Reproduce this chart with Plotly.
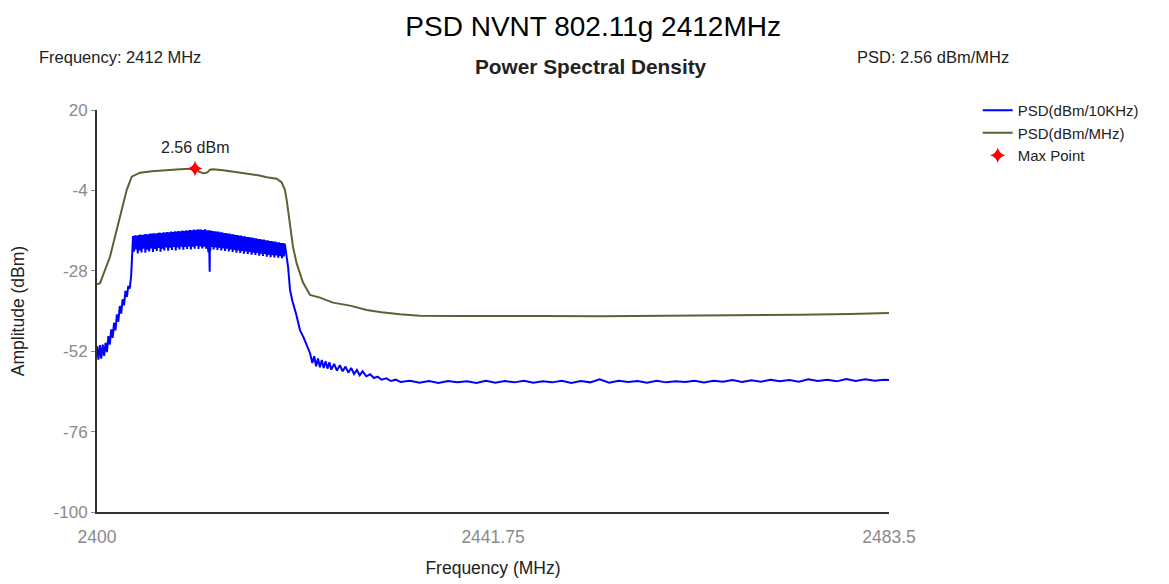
import plotly.graph_objects as go

# ---------------- data ----------------
green_f = [2400.0, 2400.32, 2401.37, 2402.42, 2403.13, 2403.66, 2404.53, 2405.8, 2407.35, 2408.75,
           2410.33, 2410.75, 2411.21, 2411.6, 2411.91, 2412.26, 2413.3, 2414.34, 2415.78, 2417.0,
           2417.89, 2418.95, 2419.47, 2419.82, 2420.03, 2420.35, 2420.66, 2421.05, 2421.72, 2422.46,
           2422.98, 2423.51, 2424.88, 2426.67, 2428.43, 2430.0, 2431.94, 2434.05, 2438.0, 2442.49,
           2447.0, 2453.03, 2458.0, 2463.57, 2468.0, 2474.12, 2479.39, 2483.5]
green_v = [-32.0, -31.7, -23.8, -11.8, -3.9, 0.1, 1.3, 1.7, 2.1, 2.3,
           2.56, 1.6, 1.1, 1.3, 2.2, 2.3, 2.0, 1.6, 1.1, 0.5,
           -0.1, -0.5, -1.6, -3.9, -7.5, -13.8, -20.8, -25.8, -31.5, -35.2,
           -35.6, -36.0, -37.5, -38.4, -39.7, -40.4, -41.0, -41.4, -41.5, -41.6,
           -41.5, -41.6, -41.5, -41.5, -41.3, -41.1, -40.9, -40.6]

blue_left_f = [2400.0, 2400.15, 2400.3, 2400.45, 2400.6, 2400.75, 2400.9, 2401.05, 2401.2, 2401.35,
               2401.5, 2401.65, 2401.8, 2401.95, 2402.1, 2402.25, 2402.4, 2402.55, 2402.7, 2402.85,
               2403.0, 2403.15, 2403.3, 2403.45, 2403.6, 2403.7]
blue_left_v = [-50.5, -54.5, -50.2, -54.2, -50.0, -53.4, -49.5, -52.3, -47.5, -50.0,
               -45.5, -48.0, -43.5, -45.8, -41.0, -43.2, -38.5, -40.8, -36.5, -38.3,
               -34.0, -35.8, -32.5, -33.3, -29.5, -22.0]

# in-band ripple: peaks (sampled every 0.2 MHz from 2403.8) and troughs (0.1 MHz later)
band_start = 2403.8
band_top_v = [-17.6, -17.4, -17.5, -17.3, -17.2, -17.3, -17.1, -17.0, -17.1, -16.9,
              -16.9, -16.8, -16.9, -16.7, -16.6, -16.7, -16.5, -16.6, -16.4, -16.5,
              -16.3, -16.4, -16.2, -16.3, -16.1, -16.2, -16.0, -16.1, -15.9, -16.0,
              -15.8, -15.9, -15.7, -15.8, -15.6, -15.7, -15.7, -15.8, -15.6, -15.9,
              -15.9, -16.0, -16.1, -16.2, -16.3, -16.3, -16.5, -16.5, -16.7, -16.7,
              -16.9, -16.9, -17.1, -17.1, -17.3, -17.3, -17.5, -17.5, -17.7, -17.7,
              -17.9, -17.9, -18.1, -18.1, -18.3, -18.3, -18.5, -18.5, -18.7, -18.7,
              -18.9, -18.9, -19.1, -19.1, -19.3, -19.3, -19.5, -19.5, -19.7, -19.7,
              -19.9]
band_bot_v = [-22.3, -21.6, -22.8, -21.9, -22.5, -21.4, -22.6, -21.7, -22.2, -21.3,
              -22.4, -21.5, -22.1, -21.2, -22.3, -21.4, -21.9, -21.0, -22.0, -21.1,
              -21.8, -20.9, -21.9, -21.0, -21.6, -20.8, -21.7, -20.9, -21.5, -20.7,
              -21.6, -20.8, -21.4, -20.6, -21.5, -20.7, -21.3, -20.8, -21.4, -21.0,
              -21.3, -20.9, -21.6, -21.0, -21.8, -21.1, -21.9, -21.3, -22.1, -21.4,
              -22.2, -21.6, -22.4, -21.8, -22.6, -21.9, -22.7, -22.1, -22.9, -22.2,
              -23.0, -22.4, -23.2, -22.6, -23.3, -22.7, -23.5, -22.9, -23.6, -23.0,
              -23.8, -23.2, -23.9, -23.3, -24.0, -23.4, -24.1, -23.6, -24.2, -23.7,
              -24.3]
dip_f = [2411.75, 2411.82, 2411.88, 2411.95]
dip_v = [-22.5, -28.3, -28.3, -22.0]

blue_fall_f = [2420.15, 2420.35, 2420.6, 2421.0, 2421.4, 2421.8, 2422.2, 2422.46, 2422.7, 2422.9, 2423.1,
               2423.3, 2423.5, 2423.7, 2423.9, 2424.1, 2424.3, 2424.5, 2424.7, 2425.0, 2425.3,
               2425.6, 2425.9, 2426.2, 2426.5, 2426.8, 2427.1, 2427.4, 2427.7, 2428.0, 2428.4,
               2428.8, 2429.2, 2429.6, 2430.0, 2430.5, 2431.0, 2431.5, 2432.0]
blue_fall_v = [-27.0, -33.7, -37.0, -41.0, -45.7, -48.0, -51.0, -52.6, -55.5, -53.5, -56.5,
               -54.2, -56.8, -54.6, -57.0, -55.0, -57.2, -55.3, -57.5, -55.8, -57.8,
               -56.2, -58.0, -56.6, -58.4, -57.0, -58.8, -57.6, -59.2, -58.0, -59.5,
               -58.9, -60.0, -59.6, -60.5, -60.1, -60.9, -60.5, -61.2]

blue_flat_f = [2433, 2434, 2435, 2436, 2437, 2438, 2439, 2440, 2441, 2442,
               2443, 2444, 2445, 2446, 2447, 2448, 2449, 2450, 2451, 2452,
               2453, 2454, 2455, 2456, 2457, 2458, 2459, 2460, 2461, 2462,
               2463, 2464, 2465, 2466, 2467, 2468, 2469, 2470, 2471, 2472,
               2473, 2474, 2475, 2476, 2477, 2478, 2479, 2480, 2481, 2482, 2483, 2483.5]
blue_flat_v = [-60.8, -61.4, -60.9, -61.5, -60.9, -61.3, -61.0, -61.5, -60.8, -61.4,
               -60.9, -61.3, -60.8, -61.4, -61.0, -61.3, -60.8, -61.5, -60.9, -61.3,
               -60.4, -61.4, -60.8, -61.2, -60.9, -61.4, -60.8, -61.3, -61.0, -61.2,
               -60.8, -61.3, -60.8, -61.1, -60.6, -61.2, -60.7, -61.1, -60.5, -61.0,
               -60.6, -61.1, -60.4, -60.9, -60.5, -61.0, -60.3, -60.9, -60.4, -60.8, -60.5, -60.6]

max_f = [2410.33]
max_v = [2.56]

x_ticks = [2400, 2441.75, 2483.5]
x_tick_text = ["2400", "2441.75", "2483.5"]
y_ticks = [20, -4, -28, -52, -76, -100]
y_tick_text = ["20", "-4", "-28", "-52", "-76", "-100"]

# assemble the 10 kHz trace (peaks and troughs interleaved, notch inserted in order)
band_pts = []
for i, (t, b) in enumerate(zip(band_top_v, band_bot_v)):
    f0 = round(band_start + 0.2 * i, 2)
    band_pts.append((f0, t))
    if i < len(band_top_v) - 1:
        band_pts.append((round(f0 + 0.1, 2), b))
band_pts += list(zip(dip_f, dip_v))
band_pts.sort(key=lambda p: p[0])
blue_f = blue_left_f + [p[0] for p in band_pts] + blue_fall_f + blue_flat_f
blue_v = blue_left_v + [p[1] for p in band_pts] + blue_fall_v + blue_flat_v

# ---------------- figure ----------------
NARROW = "Liberation Sans Narrow, Arial Narrow, Liberation Sans, Arial"
SANS = "Liberation Sans, Arial"

# the page body adds an 8px margin, so the figure is 8px smaller than the window
fig = go.Figure()
fig.add_trace(go.Scatter(x=blue_f, y=blue_v, mode="lines", name="PSD(dBm/10KHz)",
                         line=dict(color="#0000ff", width=2)))
fig.add_trace(go.Scatter(x=green_f, y=green_v, mode="lines", name="PSD(dBm/MHz)",
                         line=dict(color="#596331", width=2)))
fig.add_trace(go.Scatter(x=max_f, y=max_v, mode="markers", name="Max Point",
                         marker=dict(color="#ff0000", symbol="star-diamond", size=11)))

fig.add_annotation(x=max_f[0], y=max_v[0], text="2.56 dBm", showarrow=False,
                   yshift=21, font=dict(family=SANS, size=16, color="#222222"))

fig.update_layout(
    width=1161, height=576,
    margin=dict(l=89, r=280, t=102, b=72, autoexpand=False),
    paper_bgcolor="white", plot_bgcolor="white",
    title=dict(text="PSD NVNT 802.11g 2412MHz", x=0.504, xanchor="center",
               y=0.969, yanchor="middle", font=dict(family=SANS, size=28, color="black")),
    showlegend=True,
    legend=dict(x=1.112, y=1.04, xanchor="left", yanchor="top",
                font=dict(family=SANS, size=15, color="#222222"),
                bgcolor="rgba(0,0,0,0)", tracegroupgap=0, itemwidth=30),
    xaxis=dict(range=[2400, 2483.5], tickvals=x_ticks, ticktext=x_tick_text,
               showgrid=False, zeroline=False, showline=True, linecolor="#333333", linewidth=2,
               ticks="", ticklabelstandoff=8,
               tickfont=dict(family=NARROW, size=17.5, color="#8a8a8a"),
               title=dict(text="Frequency (MHz)", font=dict(family=NARROW, size=17.5, color="#222222"),
                          standoff=16)),
    yaxis=dict(range=[-100, 20], tickvals=y_ticks, ticktext=y_tick_text,
               showgrid=False, zeroline=False, showline=True, linecolor="#333333", linewidth=2,
               ticks="outside", ticklen=4, tickcolor="#8a8a8a",
               tickfont=dict(family=NARROW, size=17, color="#8a8a8a"),
               title=dict(text="Amplitude (dBm)", font=dict(family=NARROW, size=17.5, color="#222222"),
                          standoff=24)),
)

fig.add_annotation(xref="paper", yref="paper", x=-0.076, y=1.132, xanchor="left", yanchor="middle",
                   text="Frequency: 2412 MHz", showarrow=False,
                   font=dict(family=NARROW, size=16.5, color="#222222"))
fig.add_annotation(xref="paper", yref="paper", x=0.624, y=1.109, xanchor="center", yanchor="middle",
                   text="<b>Power Spectral Density</b>", showarrow=False,
                   font=dict(family=NARROW, size=20.8, color="#222222"))
fig.add_annotation(xref="paper", yref="paper", x=0.957, y=1.132, xanchor="left", yanchor="middle",
                   text="PSD: 2.56 dBm/MHz", showarrow=False,
                   font=dict(family=NARROW, size=16.5, color="#222222"))

fig.write_html("out.html")
